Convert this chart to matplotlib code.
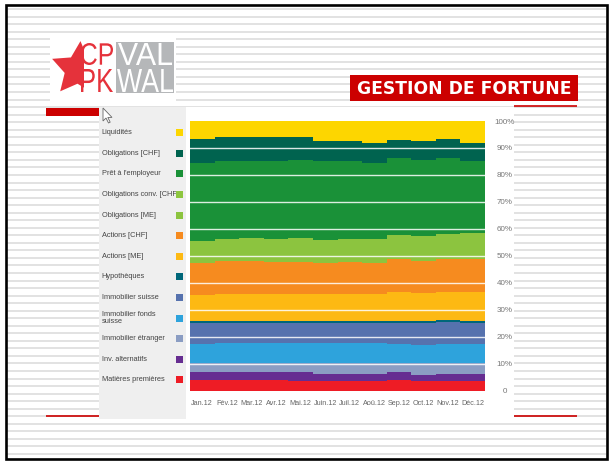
import numpy as np
import matplotlib

matplotlib.use("Agg")
import matplotlib.pyplot as plt  # noqa: E402
from matplotlib.patches import Rectangle, Polygon, PathPatch  # noqa: E402
from matplotlib.textpath import TextPath  # noqa: E402
from matplotlib.font_manager import FontProperties  # noqa: E402
from matplotlib.transforms import Affine2D  # noqa: E402

# --- data (legend order, top to bottom) -------------------------------------
months = ["Jan.12", "Fév.12", "Mar.12", "Avr.12", "Mai.12", "Juin.12",
          "Juil.12", "Aoû.12", "Sep.12", "Oct.12", "Nov.12", "Déc.12"]

series = ["Liquidités", "Obligations [CHF]", "Prêt à l'employeur",
          "Obligations conv. [CHF]", "Obligations [ME]", "Actions [CHF]",
          "Actions [ME]", "Hypothèques", "Immobilier suisse",
          "Immobilier fonds\nsuisse", "Immobilier étranger",
          "Inv. alternatifs", "Matières premières"]

liquidites = [6.6, 6.0, 6.0, 6.0, 6.0, 7.3, 7.6, 8.3, 6.9, 7.6, 6.6, 8.2]
oblig_chf = [8.9, 8.9, 8.7, 8.7, 8.6, 7.6, 7.3, 7.2, 7.0, 6.7, 7.1, 6.5]
pret_employeur = [29.2, 28.8, 28.7, 29.0, 28.8, 29.2, 28.8, 28.3, 28.3, 28.3, 28.1, 26.9]
oblig_conv = [0.0] * 12
oblig_me = [8.0, 8.4, 8.5, 8.5, 8.9, 8.6, 8.6, 8.9, 9.0, 9.3, 9.4, 9.5]
actions_chf = [11.8, 12.0, 12.2, 11.9, 11.8, 11.4, 11.8, 11.4, 12.1, 11.8, 12.1, 12.4]
actions_me = [9.6, 10.0, 10.0, 10.0, 10.0, 10.0, 10.0, 10.0, 10.8, 10.4, 10.5, 10.6]
hypotheques = [0.7, 0.7, 0.7, 0.7, 0.7, 0.7, 1.0, 0.9, 0.7, 1.0, 0.8, 0.7]
immo_suisse = [7.9, 7.4, 7.6, 7.6, 7.6, 7.6, 7.3, 7.4, 7.8, 8.0, 8.1, 7.9]
immo_fonds = [7.2, 7.7, 7.5, 7.5, 7.5, 7.5, 7.5, 7.5, 7.3, 6.8, 7.2, 7.2]
immo_etranger = [3.3, 3.3, 3.3, 3.3, 3.3, 4.0, 4.0, 4.0, 3.4, 4.3, 3.8, 4.1]
inv_alt = [3.0, 3.0, 3.0, 3.0, 3.3, 2.6, 2.6, 2.6, 2.7, 2.2, 2.8, 2.5]
matieres = [3.8, 3.8, 3.8, 3.8, 3.5, 3.5, 3.5, 3.5, 4.0, 3.6, 3.5, 3.5]

values = [liquidites, oblig_chf, pret_employeur, oblig_conv, oblig_me,
          actions_chf, actions_me, hypotheques, immo_suisse, immo_fonds,
          immo_etranger, inv_alt, matieres]

colors = ["#fdd600", "#00634f", "#1a9138", "#8dc63f", "#8cc43f", "#f68b1f",
          "#fdb913", "#00677a", "#5672ae", "#2ea3dc", "#8b9dc3", "#662d91",
          "#ee1c25"]

yticks = [0, 10, 20, 30, 40, 50, 60, 70, 80, 90, 100]
ytick_labels = ["0", "10%", "20%", "30%", "40%", "50%", "60%", "70%",
                "80%", "90%", "100%"]

SMALL = "Liberation Sans"
W, H = 611, 461

fig = plt.figure(figsize=(W / 100, H / 100), dpi=100)
fig.patch.set_facecolor("white")

# --- slide background (pixel coordinates, y down) --------------------------
bg = fig.add_axes([0, 0, 1, 1])
bg.set_xlim(0, W)
bg.set_ylim(H, 0)
bg.axis("off")

for y in np.arange(9.1, 457, 7.54):
    bg.hlines(y, 7, 606, color="#dadada", lw=1.1, zorder=1)
bg.add_patch(Rectangle((5.5, 5.5), 601, 453, fill=False, ec="black", lw=1.9, zorder=10))


def fitted_word(ax, word, x0, x1, ytop, ybot, color, z=4):
    """Draw a word stretched into the given pixel box (cap height box)."""
    tp = TextPath((0, 0), word, size=100, prop=FontProperties(family="Liberation Sans"))
    ext = tp.get_extents()
    sx = (x1 - x0) / ext.width
    sy = (ybot - ytop) / ext.height
    tr = Affine2D().translate(-ext.x0, -ext.y0).scale(sx, -sy).translate(x0, ybot)
    ax.add_patch(PathPatch(tr.transform_path(tp), fc=color, ec="none", zorder=z))


# logo
bg.add_patch(Rectangle((50, 37), 126, 65, fc="white", ec="none", zorder=2))
bg.add_patch(Rectangle((116, 42), 58, 51, fc="#b5b7b9", ec="none", zorder=3))
star, = bg.plot(78, 69, marker=(5, 1, -4), ms=41, color="#e5323b", mec="none", zorder=3)
clip = Rectangle((45, 35), 38, 65, transform=bg.transData)
star.set_clip_path(clip)
fitted_word(bg, "CP", 81, 113, 43, 65, "#e5323b")
fitted_word(bg, "PK", 81, 113, 69, 92, "#e5323b")
fitted_word(bg, "VAL", 118, 172, 43, 65, "white")
fitted_word(bg, "WAL", 117, 173, 69, 92, "white")

# title box
bg.add_patch(Rectangle((350, 75), 228, 26, fc="#cc0000", ec="none", zorder=3))
bg.text(464, 88.5, "GESTION DE FORTUNE", color="white", fontsize=12.3,
        fontweight="bold", family="DejaVu Sans", ha="center", va="center", zorder=4)

# red rules
bg.add_patch(Rectangle((46, 108), 53, 8, fc="#cc0000", ec="none", zorder=3))
bg.hlines(106, 514, 577, color="#cc0000", lw=1.2, zorder=3)
bg.hlines(416, 46, 99, color="#cc0000", lw=1.2, zorder=3)
bg.hlines(416, 514, 577, color="#cc0000", lw=1.2, zorder=3)

# panels
bg.add_patch(Rectangle((99, 107), 87, 312, fc="#efefef", ec="none", zorder=2))
bg.add_patch(Rectangle((186, 107), 328, 312, fc="white", ec="none", zorder=2))

# cursor
cur = np.array([(0, 0), (0, 13), (3, 10), (5.5, 15), (7.2, 14.2), (4.8, 9.4), (9, 9.4)])
bg.add_patch(Polygon(cur + (103, 108), closed=True, fc="white", ec="#666666", lw=0.6, zorder=5))

# legend
for i, (name, col) in enumerate(zip(series, colors)):
    yc = 132.7 + 20.6 * i
    bg.text(101.5, yc, name, fontsize=5.3, color="#444444", family=SMALL,
            ha="left", va="center", linespacing=1.05, zorder=4)
    bg.add_patch(Rectangle((176, yc - 3.5), 7, 7, fc=col, ec="none", zorder=5))

# --- chart ------------------------------------------------------------------
x0, x1, ytop, ybot = 190, 485, 121, 390.5
ax = fig.add_axes([x0 / W, 1 - ybot / H, (x1 - x0) / W, (ybot - ytop) / H], zorder=5)
ax.patch.set_alpha(0)

n = len(months)
xs = np.arange(n + 1)
bottom = np.zeros(n)
for vals, col in zip(values[::-1], colors[::-1]):
    top = bottom + np.asarray(vals)
    ax.fill_between(xs, np.append(bottom, bottom[-1]), np.append(top, top[-1]),
                    step="post", color=col, lw=0, zorder=1)
    bottom = top

ax.set_xlim(0, n)
ax.set_ylim(0, 100)
for yv in yticks[1:-1]:
    ax.axhline(yv, color="white", lw=1.0, alpha=0.85, zorder=3)

ax.set_xticks(np.arange(n) + 0.5)
ax.set_xticklabels(months, fontsize=5.2, color="#666666", family=SMALL)
ax.yaxis.tick_right()
ax.set_yticks(yticks)
ax.set_yticklabels(ytick_labels, fontsize=5.8, color="#777777", family=SMALL, ha="center")
ax.tick_params(axis="x", length=0, pad=7)
ax.tick_params(axis="y", length=0, pad=14)
for s in ax.spines.values():
    s.set_visible(False)

fig.savefig("out.png", dpi=100, facecolor="white")
